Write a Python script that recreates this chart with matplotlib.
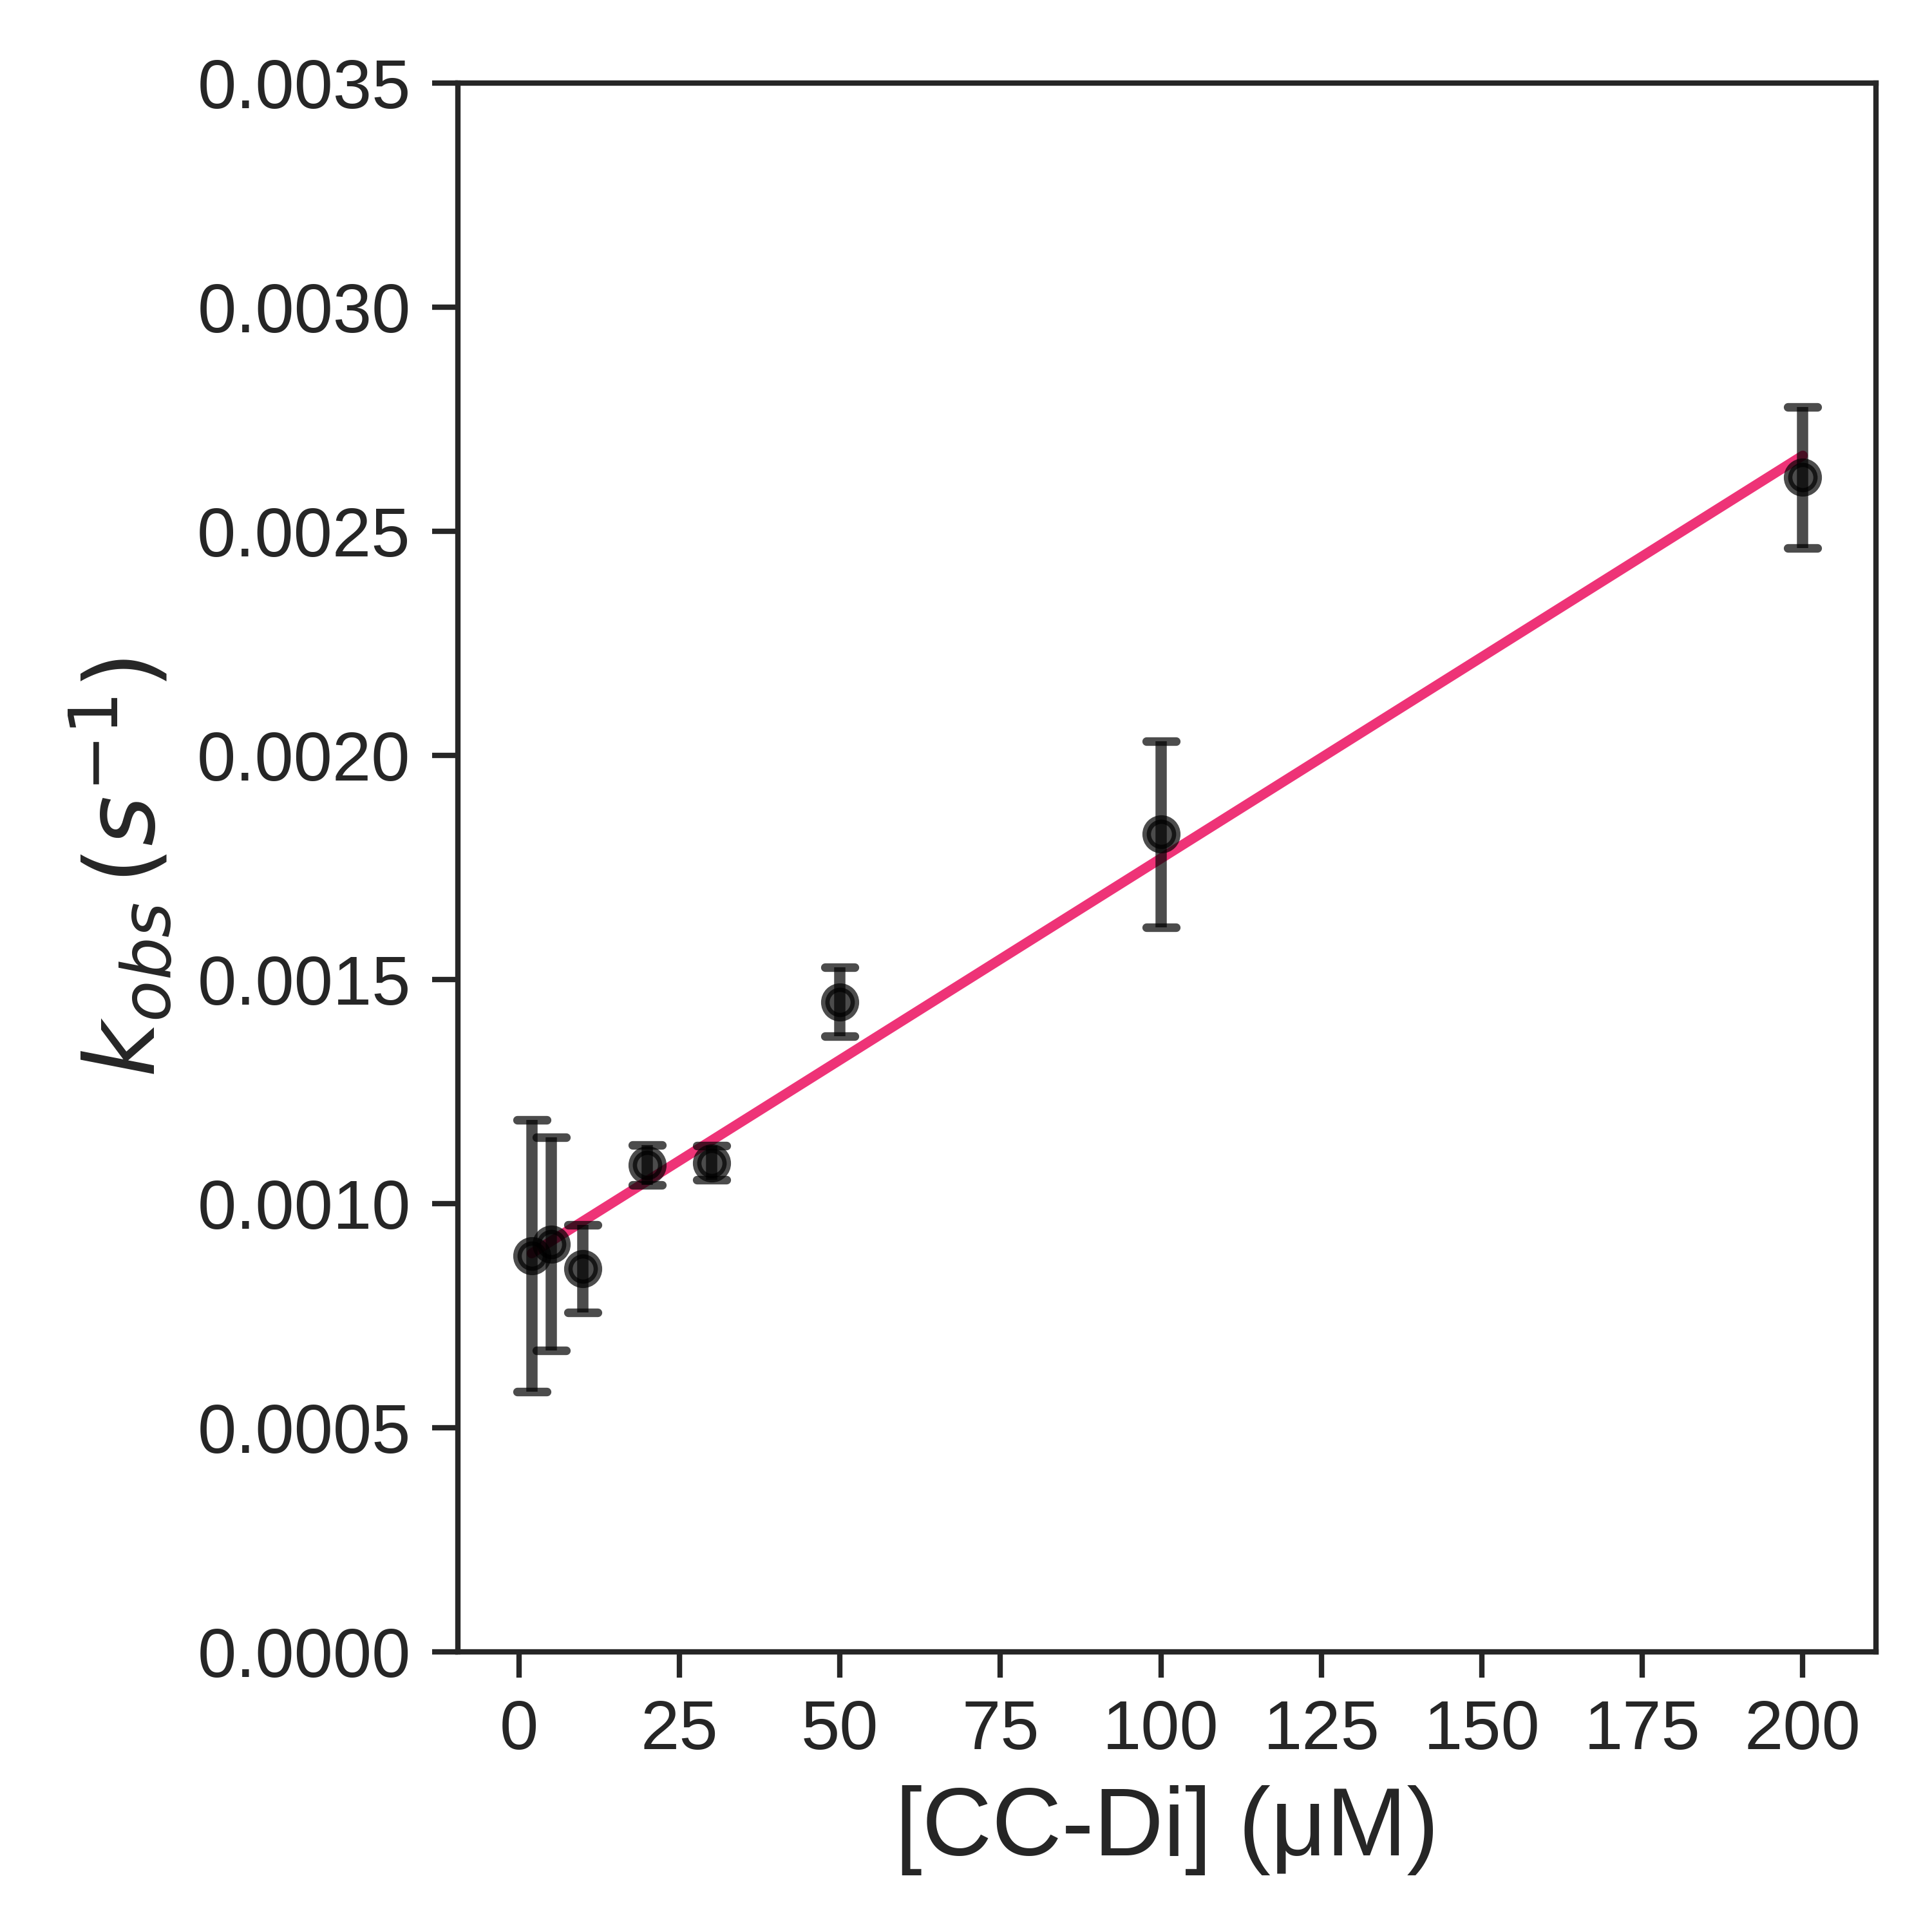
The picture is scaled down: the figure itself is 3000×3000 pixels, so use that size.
import numpy as np
import matplotlib
matplotlib.use("Agg")
import matplotlib.pyplot as plt
import seaborn as sns
from matplotlib.markers import MarkerStyle

# datos
conc = np.array([2, 5, 10, 20, 30, 50, 100, 200])  # [CC-Di] en uM
kobs = np.array([0.000884, 0.000910, 0.000855, 0.001086, 0.001091, 0.001450, 0.001824, 0.002620])
kobs_err = np.array([0.000303, 0.000238, 0.000098, 0.000045, 0.000038, 0.000077, 0.000208, 0.000158])

fit_slope = 8.99e-6
fit_intercept = 0.000871

yticks = [0.0000, 0.0005, 0.0010, 0.0015, 0.0020, 0.0025, 0.0030, 0.0035]
xticks = [0, 25, 50, 75, 100, 125, 150, 175, 200]

sns.set_style("ticks")
plt.rcParams['font.family'] = ['Liberation Sans', 'DejaVu Sans']
plt.rcParams['mathtext.fontset'] = 'dejavusans'

fig = plt.figure(figsize=(5, 5), dpi=600)
ax = fig.add_axes([0.237, 0.145, 0.734, 0.812])

xfit = np.array([conc.min(), conc.max()])
ax.plot(xfit, fit_intercept + fit_slope * xfit, color='#EE3377', lw=1.85, zorder=2)

eb = ax.errorbar(conc, kobs, yerr=kobs_err, fmt='o', color='black', alpha=0.7,
                 markersize=5.5, markeredgewidth=1.6, elinewidth=2.1,
                 capsize=2.8, capthick=2.1, zorder=3)
for cap in eb[1]:
    cap.set_marker(MarkerStyle('_', capstyle='round'))

ax.set_xlim(-9.5, 211.4)
ax.set_ylim(0, 0.0035)
ax.set_xticks(xticks)
ax.set_yticks(yticks)
ax.set_yticklabels(['%.4f' % v for v in yticks])

for s in ax.spines.values():
    s.set_linewidth(1.0)
    s.set_color('#262626')
ax.tick_params(axis='both', labelsize=13, width=1.0, length=4.8, colors='#262626', pad=4)

ax.set_xlabel('[CC-Di] (μM)', fontsize=18, color='#262626')
ax.set_ylabel(r'$k_{obs}\,(s^{-1})$', fontsize=18, color='#262626')

fig.savefig('out.png', dpi=600)
